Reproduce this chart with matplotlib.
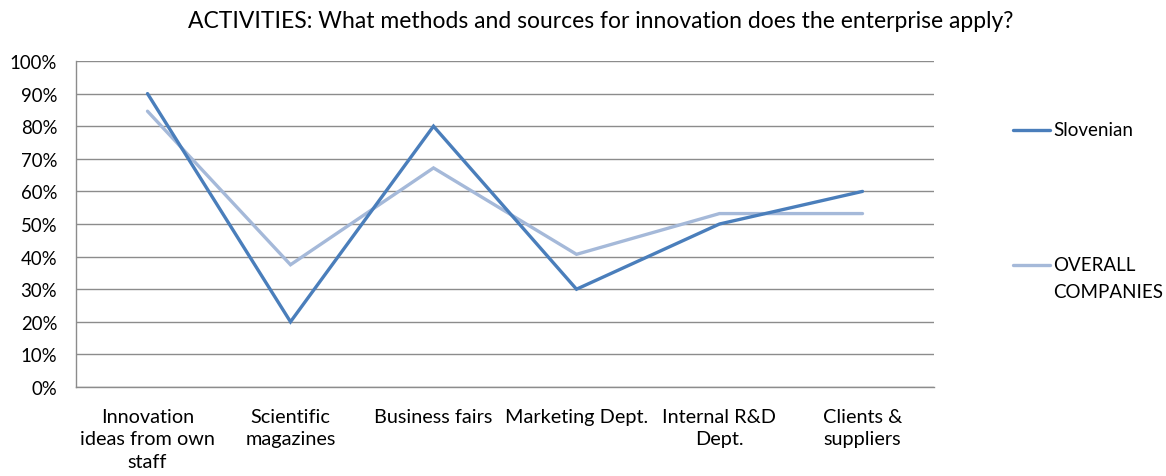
import matplotlib
matplotlib.use("Agg")
import matplotlib.pyplot as plt
from matplotlib.lines import Line2D
from matplotlib.ticker import PercentFormatter, MultipleLocator

categories = ["Innovation\nideas from own\nstaff", "Scientific\nmagazines", "Business fairs",
              "Marketing Dept.", "Internal R&D\nDept.", "Clients &\nsuppliers"]
slovenian = [90, 20, 80, 30, 50, 60]
overall = [84.6, 37.5, 67.2, 40.7, 53.2, 53.2]
series_names = ["Slovenian", "OVERALL\nCOMPANIES"]
title = "ACTIVITIES: What methods and sources for innovation does the enterprise apply?"

c_slo = "#4A7EBB"
c_all = "#A5B9D9"
grid_c = "#8C8C8C"
font = "Lato"

plt.rcParams["font.family"] = [font, "DejaVu Sans"]

fig = plt.figure(figsize=(11.66, 4.77), dpi=100)
ax = fig.add_axes([76 / 1166, 1 - 388 / 477, (934 - 76) / 1166, (388 - 62) / 477])

x = list(range(len(categories)))
ax.plot(x, slovenian, color=c_slo, lw=2.4, solid_capstyle="round", solid_joinstyle="miter", zorder=3)
ax.plot(x, overall, color=c_all, lw=2.4, solid_capstyle="round", solid_joinstyle="miter", zorder=2)

ax.set_xlim(-0.5, len(categories) - 0.5)
ax.set_ylim(0, 100)
ax.yaxis.set_major_locator(MultipleLocator(10))
ax.yaxis.set_major_formatter(PercentFormatter(decimals=0))
ax.set_xticks(x)
ax.set_xticklabels(categories, fontsize=14.3, linespacing=1.4, va="top")
ax.tick_params(axis="y", length=0, pad=13.5, labelsize=13.4)
ax.tick_params(axis="x", length=0, pad=15)
ax.grid(axis="y", color=grid_c, lw=1.0)
ax.set_axisbelow(True)
for side in ("top", "right"):
    ax.spines[side].set_visible(False)
for side in ("left", "bottom"):
    ax.spines[side].set_color(grid_c)
    ax.spines[side].set_linewidth(1.0)

fig.text(601 / 1166, 1 - 22 / 477, title, ha="center", va="center", fontsize=16.5)

# legend on the right
for color, name, yc in [(c_slo, series_names[0], 131), (c_all, series_names[1], 266)]:
    fig.add_artist(Line2D([1013 / 1166, 1050 / 1166], [1 - yc / 477] * 2, color=color, lw=2.4,
                          solid_capstyle="round"))
    fig.text(1053 / 1166, 1 - (yc - 9) / 477, name, ha="left", va="top", fontsize=13.5,
             linespacing=1.7)

fig.savefig("out.png", dpi=100)
